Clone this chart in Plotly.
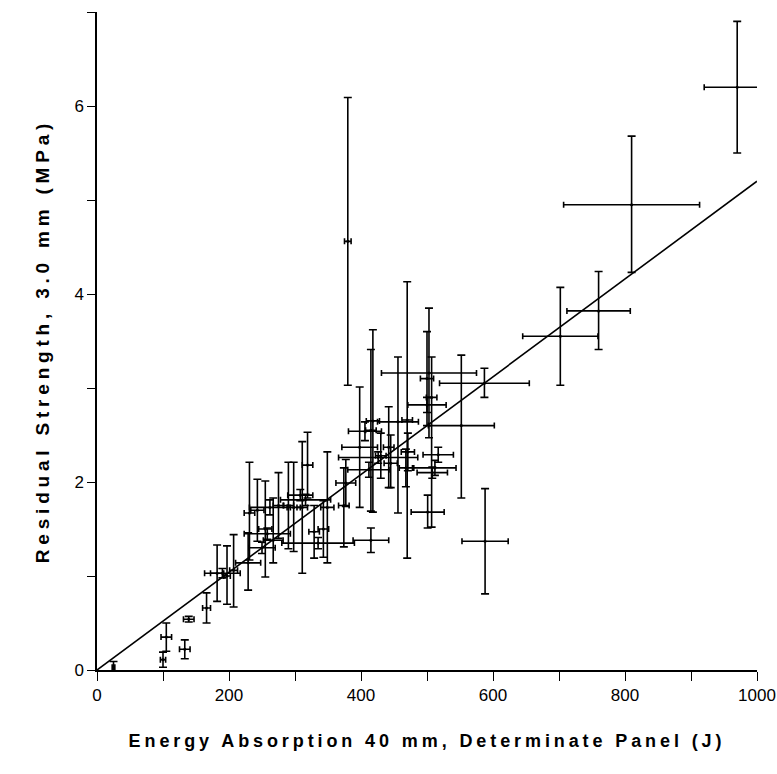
import plotly.graph_objects as go

# Energy absorption (J), its +/- error, residual strength (MPa), its + / - errors
energy = [25, 100, 105, 133, 139, 166, 182, 190, 197, 207,
          229, 231, 243, 255, 262, 258, 267, 250, 275, 290,
          298, 311, 319, 316, 308, 329, 335, 349, 343, 377,
          374, 380, 398, 406, 418, 415, 412, 426, 430, 442,
          445, 456, 468, 471, 470, 415, 500, 503, 500, 507,
          517, 512, 508, 501, 552, 587, 588, 702, 760, 810,
          970]
energy_err = [2, 4, 8, 8, 8, 6, 10, 27, 5, 6,
              19, 8, 10, 10, 31, 35, 15, 20, 8, 8,
              10, 8, 8, 38, 19, 8, 55, 10, 8, 15,
              8, 5, 27, 25, 10, 8, 32, 60, 8, 8,
              10, 31, 10, 10, 8, 27, 29, 72, 10, 8,
              23, 32, 23, 25, 50, 68, 35, 57, 48, 103,
              50]
strength = [0.03, 0.11, 0.35, 0.22, 0.54, 0.66, 1.03, 1.03, 1.00, 1.06,
            1.14, 1.67, 1.70, 1.50, 1.73, 1.45, 1.38, 1.30, 1.75, 1.75,
            1.73, 1.73, 2.18, 1.81, 1.86, 1.47, 1.35, 1.73, 1.50, 1.99,
            1.75, 4.56, 2.37, 2.54, 2.65, 2.55, 2.13, 2.26, 2.28, 2.37,
            2.20, 2.64, 2.15, 2.32, 2.66, 1.38, 2.82, 3.16, 3.10, 2.90,
            2.29, 2.15, 2.10, 1.68, 2.60, 3.05, 1.37, 3.55, 3.82, 4.95,
            6.20]
strength_err_plus = [0.06, 0.08, 0.15, 0.10, 0.03, 0.16, 0.30, 0.05, 0.32, 0.38,
                     0.32, 0.54, 0.33, 0.51, 0.08, 0.06, 0.45, 0.06, 0.35, 0.46,
                     0.48, 0.70, 0.35, 0.06, 0.06, 0.28, 0.06, 0.59, 0.30, 0.25,
                     0.40, 1.53, 0.64, 0.10, 0.97, 0.86, 0.08, 0.06, 0.24, 0.43,
                     0.30, 0.69, 0.20, 0.20, 1.47, 0.13, 0.08, 0.69, 0.50, 0.43,
                     0.08, 0.08, 0.06, 0.18, 0.75, 0.16, 0.56, 0.52, 0.42, 0.73,
                     0.70]
strength_err_minus = [0.06, 0.08, 0.15, 0.10, 0.03, 0.16, 0.30, 0.05, 0.30, 0.39,
                      0.29, 0.50, 0.33, 0.51, 0.08, 0.06, 0.24, 0.06, 0.35, 0.46,
                      0.47, 0.70, 0.35, 0.06, 0.06, 0.28, 0.06, 0.59, 0.30, 0.25,
                      0.44, 1.53, 0.64, 0.10, 0.97, 0.86, 0.08, 0.06, 0.24, 0.43,
                      0.26, 0.97, 0.20, 0.20, 1.47, 0.13, 0.08, 0.69, 0.50, 1.38,
                      0.08, 0.08, 0.06, 0.17, 0.77, 0.15, 0.56, 0.52, 0.41, 0.72,
                      0.70]

# Fitted regression line
fit_x = [0, 1000]
fit_y = [0.0, 5.2]

x_tickvals = [0, 100, 200, 300, 400, 500, 600, 700, 800, 900, 1000]
x_ticktext = ["0", "", "200", "", "400", "", "600", "", "800", "", "1000"]
y_tickvals = [0, 1, 2, 3, 4, 5, 6, 7]
y_ticktext = ["0", "", "2", "", "4", "", "6", ""]

x_title = "Energy Absorption 40 mm, Determinate Panel (J)"
y_title = "Residual Strength, 3.0 mm (MPa)"

fig = go.Figure()

fig.add_trace(go.Scatter(
    x=energy, y=strength, mode="markers",
    marker=dict(color="black", size=3),
    error_x=dict(type="data", array=energy_err, color="black", thickness=1.6, width=3),
    error_y=dict(type="data", array=strength_err_plus, arrayminus=strength_err_minus,
                 symmetric=False, color="black", thickness=1.6, width=4),
    showlegend=False, hoverinfo="skip"))

fig.add_trace(go.Scatter(
    x=fit_x, y=fit_y, mode="lines",
    line=dict(color="black", width=1.6),
    showlegend=False, hoverinfo="skip"))

font_family = "Liberation Sans, Arial, Helvetica, sans-serif"

fig.update_layout(
    width=777, height=774,
    margin=dict(l=97, r=20, t=12, b=104),
    paper_bgcolor="white", plot_bgcolor="white",
    font=dict(family=font_family, color="black", size=14),
    xaxis=dict(
        range=[0, 1000], tickvals=x_tickvals, ticktext=x_ticktext,
        showline=True, linecolor="black", linewidth=1.5,
        ticks="outside", ticklen=9, tickwidth=1.2, tickcolor="black",
        showgrid=False, zeroline=False, automargin=False,
        ticklabeloverflow="allow",
        tickfont=dict(size=17, family=font_family),
        title=dict(text="<b><span style='letter-spacing:3.9px'>" + x_title + "</span></b>",
                   font=dict(size=18, family=font_family), standoff=30),
    ),
    yaxis=dict(
        range=[0, 7], tickvals=y_tickvals, ticktext=y_ticktext,
        showline=True, linecolor="black", linewidth=1.5,
        ticks="outside", ticklen=8, tickwidth=1.2, tickcolor="black",
        showgrid=False, zeroline=False, automargin=False,
        tickfont=dict(size=17, family=font_family),
        title=dict(text="<b><span style='letter-spacing:4.8px'>" + y_title + "</span></b>",
                   font=dict(size=19, family=font_family), standoff=20),
    ),
)

fig.write_html("out.html")
